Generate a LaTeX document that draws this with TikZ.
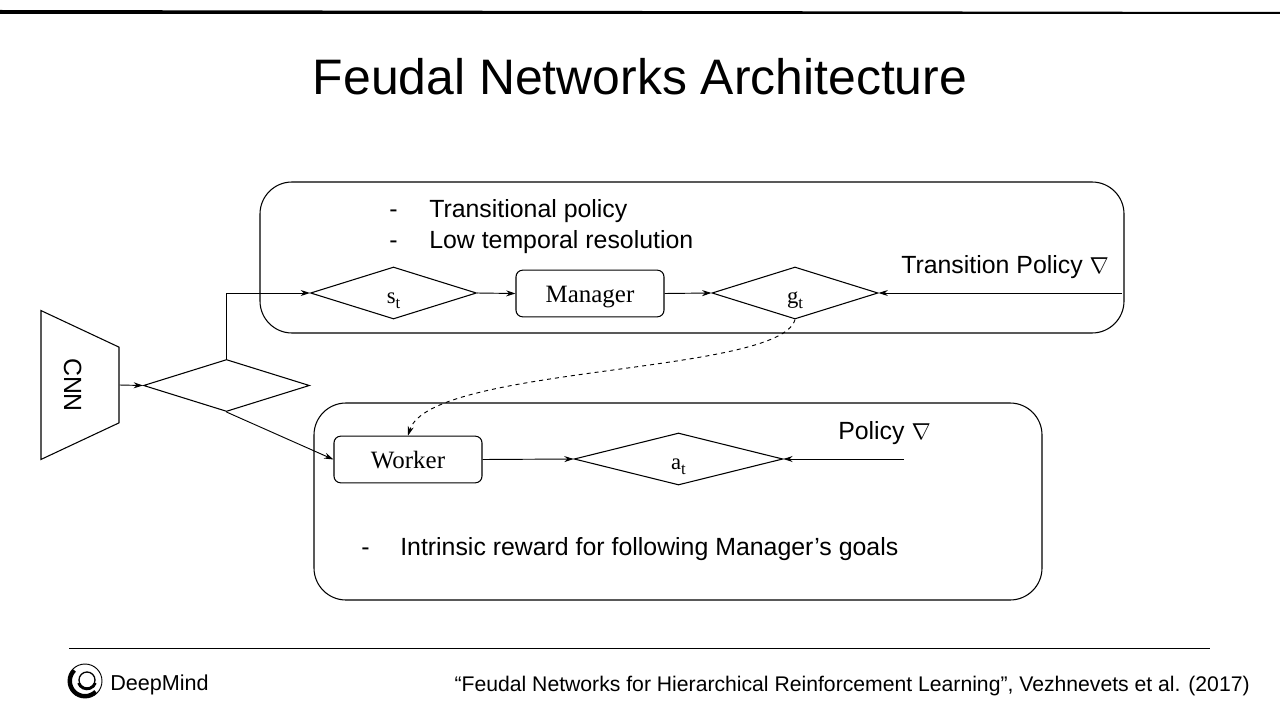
\documentclass[tikz,border=0pt]{standalone}
\usepackage{fontspec}
\setmainfont{Liberation Serif}
\setsansfont{Liberation Sans}
\usepackage{amsmath,amssymb}
\usepackage{xcolor}
\usepackage{tikz}
\usetikzlibrary{arrows.meta,positioning,calc,shapes.geometric}

\newcommand{\fsize}[1]{\fontsize{#1}{#1}\selectfont}
\newcommand{\lowt}{\raisebox{-4pt}{\fsize{12.5}t}}

\begin{document}
\begin{tikzpicture}[
  x=0.75pt, y=-0.75pt,
  >={Stealth[length=7pt,width=4.5pt]},
  container/.style={draw, line width=0.8pt, rounded corners=24pt},
  decision/.style={draw, diamond, aspect=3.2, inner sep=0pt, line width=0.8pt, minimum width=124.5pt, minimum height=39pt, text height=15pt, text depth=0pt, font=\rmfamily\fsize{17}},
  agent/.style={draw, rounded corners=5pt, line width=0.8pt, minimum width=111pt, minimum height=35pt, inner sep=0pt, text height=12.8pt, text depth=0pt, font=\rmfamily\fsize{18.7}},
  flow/.style={->, line width=0.7pt},
  note/.style={anchor=west, inner sep=0pt, text height=13pt, text depth=4pt, font=\sffamily\fsize{18.65}},
]
\useasboundingbox (0,0) rectangle (1280,720);

% Bandeau et titre
\fill (0,10) -- (1280,12) -- (1280,14) -- (0,14) -- cycle;
\node[font=\sffamily\fsize{37.4}] (title) at (640,77) {Feudal Networks Architecture};

% Les deux cadres
\draw[container] (260,182) rectangle (1124,333);
\draw[container] (314,403) rectangle (1042,600);

% Noeuds
\node[draw, trapezium, trapezium angle=50.9, trapezium stretches=true, rotate=-90, line width=0.8pt, inner sep=0pt, text height=24pt, text depth=0pt, minimum height=58.5pt, minimum width=112.5pt, font=\sffamily\fsize{18.65}] (cnn) at (80,385) {CNN};
\node[decision] (split) at (226.5,385.5) {};
\node[decision] (st) at (393.5,293) {s\lowt};
\node[agent] (manager) at (590,293.5) {Manager};
\node[decision] (gt) at (795,293) {g\lowt};
\node[agent] (worker) at (408,459.5) {Worker};
\node[decision, minimum width=156.5pt] (at) at (678.5,459) {a\lowt};

% Extremites libres
\coordinate (tpolicy) at (1122,293);
\coordinate (wpolicy) at (904,459);
\coordinate (branch) at (split.north |- st.west);

% Connexions
\draw[flow] (cnn.north) -- (split.west);
\draw[flow] (split.north) -- (branch) -- (st.west);
\draw[flow] (split.south) -- (worker.west);
\draw[flow] (st.east) -- (manager.west);
\draw[flow] (manager.east) -- (gt.west);
\draw[flow] (tpolicy) -- (gt.east);
\draw[flow] (worker.east) -- (at.west);
\draw[flow] (wpolicy) -- (at.east);
\draw[flow, dashed] (gt.south) .. controls (780,375) and (430,365) .. (worker.north);

% Textes
\node[note] (dasha) at (389,212) {-};
\node[note] (tpol) at (429,212) {Transitional policy};
\node[note] (dashb) at (389,242) {-};
\node[note] (lowres) at (429,242) {Low temporal resolution};
\node[note] (tgrad) at (901,267) {Transition Policy $\nabla$};
\node[note] (pgrad) at (838,433) {Policy $\nabla$};
\node[note] (dashc) at (361,549) {-};
\node[note] (intr) at (400,549) {Intrinsic reward for following Manager's goals};

% Pied de page
\draw[line width=0.6pt] (69,648) -- (1210,648);
\draw[line width=0.7pt] (85,681) circle (12.75pt);
\draw[line width=3pt] (74.4,670.4) arc[start angle=225, end angle=45, radius=15];
\draw[line width=1pt] (87,680) circle (6pt);
\draw[line width=2pt] (78.5,683) arc[start angle=160, end angle=20, radius=9];
\node[anchor=west, inner sep=0pt, font=\sffamily\fsize{16.2}] (brand) at (110,685) {DeepMind};
\node[anchor=east, inner sep=0pt, font=\sffamily\fsize{15.88}] (cite) at (1250,686) {“Feudal Networks for Hierarchical Reinforcement Learning”, Vezhnevets et al. (2017)};

\end{tikzpicture}
\end{document}
